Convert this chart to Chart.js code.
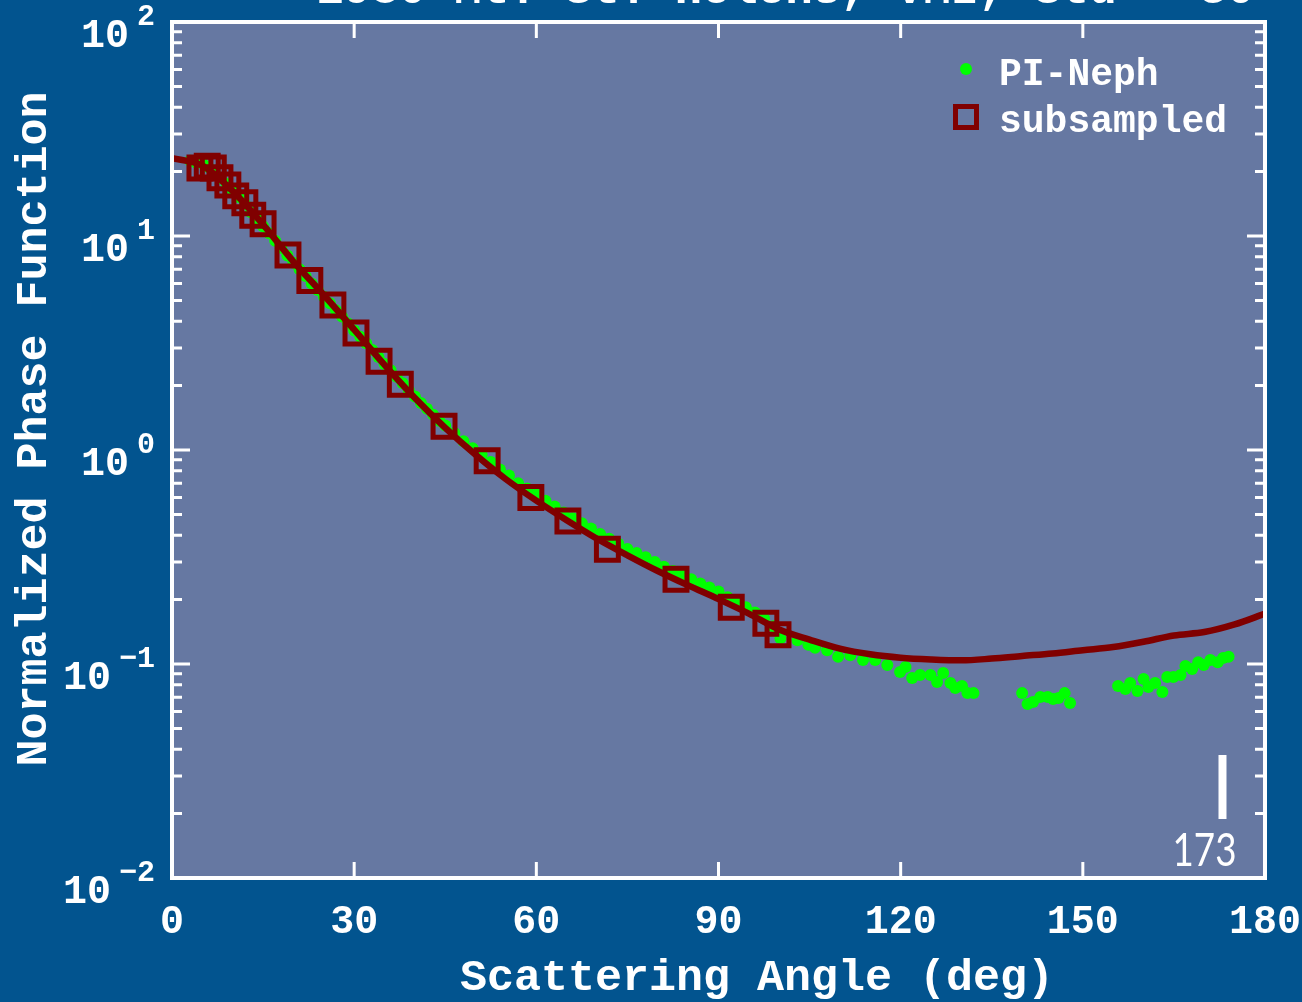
<!DOCTYPE html>
<html lang="en">
<head>
    <meta charset="UTF-8">
    <script src="https://cdn.jsdelivr.net/npm/chart.js"></script>
    <title>Phase Function</title>
    <style>
        body { margin: 0; background: #02548f; }
        canvas { display: block; }
    </style>
</head>
<body>
    <canvas id="phaseChart" width="1302" height="1002"></canvas>
    <script>
        // fitted phase function (solid line)
        const angleCurve = [0, 5, 10, 15, 20, 25, 30, 35, 40, 45, 50, 55, 60, 65, 70, 75, 80, 85, 90,
            95, 100, 105, 110, 115, 120, 125, 130, 135, 140, 145, 150, 155, 160, 165, 170, 175, 180];
        const phaseCurve = [23.1, 21.3, 16.2, 11.3, 7.6, 5.3, 3.65, 2.5, 1.75, 1.27, 0.95, 0.73, 0.58, 0.47, 0.385, 0.322, 0.272, 0.233, 0.201,
            0.172, 0.145, 0.130, 0.118, 0.111, 0.107, 0.105, 0.104, 0.106, 0.109, 0.112, 0.116, 0.120, 0.127, 0.136, 0.141, 0.153, 0.172];

        // subsampled points (open squares)
        const angleSub = [4.6, 5.8, 6.8, 7.9, 9.2, 10.5, 12.0, 13.3, 15.0, 19.1, 22.7, 26.5, 30.3, 34.1, 37.6, 44.8,
            51.9, 59.1, 65.2, 71.7, 83.0, 92.1, 97.8, 99.8];
        const phaseSub = [20.8, 21.2, 20.8, 18.7, 17.3, 15.4, 14.3, 12.5, 11.4, 8.15, 6.2, 4.76, 3.52, 2.6, 2.03, 1.29,
            0.89, 0.60, 0.466, 0.344, 0.249, 0.184, 0.155, 0.137];

        // PI-Neph measurements (green dots)
        const angleNeph = [3, 4, 5, 6, 7, 8, 9, 10, 11, 12, 13, 14, 15, 16, 17, 18, 19, 20, 21, 22,
            23, 24, 25, 26, 27, 28, 29, 30, 31, 32, 33, 34, 35, 36, 37, 38, 39, 40, 41, 42, 43, 44, 45,
            46.5, 48, 49.5, 51, 52.5, 54, 55.5, 57, 58.5, 60, 61.5, 63, 64.5, 66, 67.5, 69, 70.5, 72, 73.5, 75,
            76.5, 78, 79.5, 81, 82.5, 84, 85.5, 87, 88.5, 90, 91.5, 93, 94.5, 96, 97.5, 99,
            100.2, 103.0, 104.8, 105.9, 107.9, 109.7, 111.7, 113.8, 115.8, 117.8, 119.9, 120.8, 121.9, 123.2,
            124.9, 126.0, 127.0, 128.2, 129.0, 130.1, 131.0, 132.0,
            140.0, 140.9, 141.8, 143.0, 144.2, 145.1, 146.0, 147.0, 147.9,
            155.8, 157.0, 157.8, 159.0, 160.0, 160.8, 161.9, 163.1, 163.9, 164.9, 166.1, 166.9, 168.0, 169.0,
            169.9, 171.0, 172.2, 173.1, 174.0];
        const phaseNeph = [22.5, 22, 21.8, 21, 19.8, 18.6, 17.5, 16.3, 15.2, 14.1, 12.9, 12, 11.1, 10.3, 9.5, 8.8, 8.1, 7.5, 7.0, 6.5,
            6.0, 5.6, 5.2, 4.85, 4.5, 4.2, 3.9, 3.62, 3.38, 3.15, 2.93, 2.72, 2.52, 2.36, 2.2, 2.05, 1.9, 1.78, 1.66, 1.56, 1.46, 1.37, 1.3,
            1.2, 1.1, 1.02, 0.95, 0.88, 0.81, 0.76, 0.70, 0.66, 0.62, 0.58, 0.545, 0.51, 0.48, 0.455, 0.43, 0.405, 0.385, 0.365, 0.345,
            0.33, 0.315, 0.30, 0.285, 0.272, 0.26, 0.249, 0.238, 0.228, 0.218, 0.205, 0.194, 0.184, 0.174, 0.163, 0.150,
            0.132, 0.129, 0.123, 0.119, 0.116, 0.108, 0.110, 0.1045, 0.1045, 0.099, 0.0918, 0.0968, 0.086, 0.0888,
            0.0888, 0.0824, 0.0908, 0.0815, 0.0773, 0.0789, 0.0731, 0.0731,
            0.0731, 0.065, 0.0664, 0.0701, 0.0701, 0.0686, 0.0694, 0.0731, 0.0657,
            0.0789, 0.0764, 0.0815, 0.0748, 0.0851, 0.0781, 0.0815, 0.074, 0.0869, 0.0869, 0.0888, 0.0979, 0.0947, 0.102,
            0.099, 0.1045, 0.102, 0.1067, 0.108];

        const xTicks = [0, 30, 60, 90, 120, 150, 180];
        const yDecades = [-2, -1, 0, 1, 2];
        const markerAngle = 173;
        const titleText = '1980 Mt. St. Helens, VMI, Std = 30';

        const MONO = '"Liberation Mono", "DejaVu Sans Mono", monospace';
        const DARK_RED = '#800000';
        const GREEN = '#00ff00';

        const toXY = (xs, ys) => xs.map((x, i) => ({ x: x, y: ys[i] }));

        const decorations = {
            id: 'decorations',
            beforeDraw(chart) {
                const { ctx, chartArea: a } = chart;
                ctx.save();
                ctx.fillStyle = '#02548f';
                ctx.fillRect(0, 0, chart.width, chart.height);
                ctx.fillStyle = '#6678a2';
                ctx.fillRect(a.left, a.top, a.right - a.left, a.bottom - a.top);
                ctx.restore();
            },
            afterDraw(chart) {
                const { ctx, chartArea: a } = chart;
                const xs = chart.scales.x, ys = chart.scales.y;
                ctx.save();
                ctx.strokeStyle = '#ffffff';
                ctx.fillStyle = '#ffffff';

                // frame
                ctx.lineWidth = 4;
                ctx.strokeRect(a.left, a.top, a.right - a.left, a.bottom - a.top);

                // x ticks (inward, top and bottom)
                ctx.lineWidth = 3;
                ctx.beginPath();
                xTicks.forEach(v => {
                    const px = xs.getPixelForValue(v);
                    ctx.moveTo(px, a.bottom); ctx.lineTo(px, a.bottom - 16);
                    ctx.moveTo(px, a.top); ctx.lineTo(px, a.top + 16);
                });
                ctx.stroke();

                // y ticks, decades and minors (inward, left and right)
                ctx.beginPath();
                yDecades.forEach(d => {
                    for (let m = 1; m <= 9; m++) {
                        const v = m * Math.pow(10, d);
                        if (v > ys.max * 1.0001) break;
                        const py = ys.getPixelForValue(v);
                        const len = m === 1 ? 18 : 10;
                        ctx.moveTo(a.left, py); ctx.lineTo(a.left + len, py);
                        ctx.moveTo(a.right, py); ctx.lineTo(a.right - len, py);
                    }
                });
                ctx.stroke();

                // x tick labels
                ctx.font = 'bold 40px ' + MONO;
                ctx.textAlign = 'center';
                ctx.textBaseline = 'alphabetic';
                xTicks.forEach(v => {
                    ctx.fillText(String(v), xs.getPixelForValue(v), a.bottom + 55);
                });

                // y tick labels as 10^n
                yDecades.forEach(d => {
                    const py = ys.getPixelForValue(Math.pow(10, d));
                    const exp = d < 0 ? '\u2212' + Math.abs(d) : String(d);
                    ctx.font = 'bold 30px ' + MONO;
                    const ew = ctx.measureText(exp).width;
                    ctx.textAlign = 'left';
                    ctx.fillText(exp, 155 - ew, py + 3);
                    ctx.font = 'bold 40px ' + MONO;
                    ctx.textAlign = 'right';
                    ctx.fillText('10', 155 - ew - 8, py + 25);
                });

                // axis titles
                ctx.font = 'bold 45px ' + MONO;
                ctx.textAlign = 'center';
                ctx.fillText('Scattering Angle (deg)', 757, 990);
                ctx.save();
                ctx.translate(46, 429);
                ctx.rotate(-Math.PI / 2);
                ctx.fillText('Normalized Phase Function', 0, 0);
                ctx.restore();

                // title, mostly above the top edge
                ctx.font = 'bold 46px ' + MONO;
                ctx.textAlign = 'left';
                ctx.fillText(titleText, 316, 3);

                // legend
                const lx = a.right - 299;
                ctx.fillStyle = GREEN;
                ctx.beginPath();
                ctx.arc(lx, a.top + 47, 6, 0, Math.PI * 2);
                ctx.fill();
                ctx.strokeStyle = DARK_RED;
                ctx.lineWidth = 5;
                ctx.strokeRect(lx - 10.5, a.top + 84.5, 21, 21);
                ctx.fillStyle = '#ffffff';
                ctx.font = 'bold 38px ' + MONO;
                ctx.textAlign = 'left';
                ctx.fillText('PI-Neph', lx + 33, a.top + 63);
                ctx.fillText('subsampled', lx + 33, a.top + 110);

                // angle marker
                const mx = xs.getPixelForValue(markerAngle);
                ctx.strokeStyle = '#ffffff';
                ctx.lineWidth = 8;
                ctx.beginPath();
                ctx.moveTo(mx, 755);
                ctx.lineTo(mx, 819);
                ctx.stroke();
                ctx.save();
                ctx.translate(mx + 14, 866);
                ctx.scale(0.8, 1);
                ctx.font = '46px Lato, "Open Sans", sans-serif';
                ctx.textAlign = 'right';
                ctx.fillText(String(markerAngle), 0, 0);
                ctx.restore();

                ctx.restore();
            }
        };

        const ctx = document.getElementById('phaseChart').getContext('2d');
        const phaseChart = new Chart(ctx, {
            type: 'line',
            data: {
                datasets: [
                    {
                        label: 'subsampled',
                        data: toXY(angleSub, phaseSub),
                        showLine: false,
                        pointStyle: 'rect',
                        pointRadius: 15.5,
                        pointBorderWidth: 5,
                        pointBorderColor: DARK_RED,
                        pointBackgroundColor: 'rgba(0,0,0,0)',
                        order: 0
                    },
                    {
                        label: 'fit',
                        data: toXY(angleCurve, phaseCurve),
                        borderColor: DARK_RED,
                        borderWidth: 6.5,
                        pointRadius: 0,
                        cubicInterpolationMode: 'monotone',
                        fill: false,
                        order: 1
                    },
                    {
                        label: 'PI-Neph',
                        data: toXY(angleNeph, phaseNeph),
                        showLine: false,
                        pointRadius: 6,
                        pointBorderWidth: 0,
                        pointBackgroundColor: GREEN,
                        order: 2
                    }
                ]
            },
            options: {
                responsive: false,
                animation: false,
                layout: { padding: { left: 172, right: 37, top: 22, bottom: 124 } },
                scales: {
                    x: { type: 'linear', min: 0, max: 180, display: false },
                    y: { type: 'logarithmic', min: 0.01, max: 100, display: false }
                },
                plugins: {
                    legend: { display: false },
                    tooltip: { enabled: false }
                }
            },
            plugins: [decorations]
        });
    </script>
</body>
</html>
